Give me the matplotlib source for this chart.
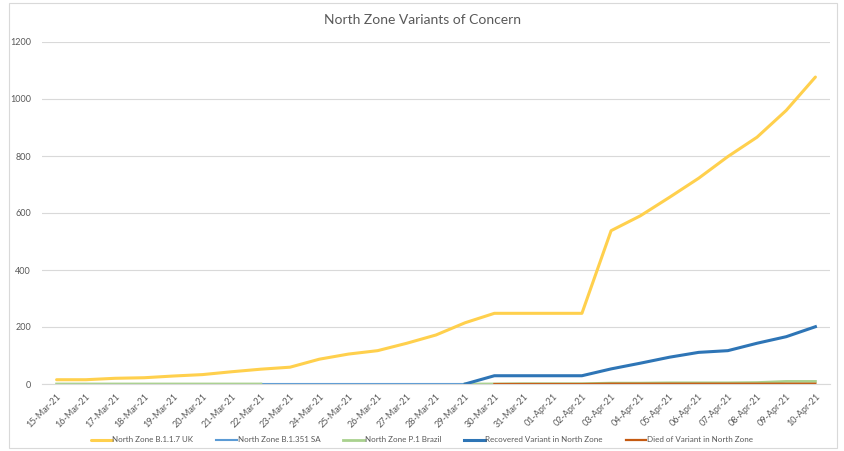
import matplotlib
matplotlib.use("Agg")
import matplotlib.pyplot as plt
import numpy as np
from matplotlib.patches import Rectangle

dates = ["15-Mar-21", "16-Mar-21", "17-Mar-21", "18-Mar-21", "19-Mar-21", "20-Mar-21",
         "21-Mar-21", "22-Mar-21", "23-Mar-21", "24-Mar-21", "25-Mar-21", "26-Mar-21",
         "27-Mar-21", "28-Mar-21", "29-Mar-21", "30-Mar-21", "31-Mar-21", "01-Apr-21",
         "02-Apr-21", "03-Apr-21", "04-Apr-21", "05-Apr-21", "06-Apr-21", "07-Apr-21",
         "08-Apr-21", "09-Apr-21", "10-Apr-21"]
nan = np.nan
uk = [15, 15, 20, 22, 28, 33, 43, 52, 59, 87, 105, 117, 143, 172, 215, 248, 248, 248,
      248, 538, 590, 655, 722, 798, 866, 960, 1077]
sa = [nan, nan, nan, nan, nan, nan, nan, 0, 0, 0, 0, 0, 0, 0, 0, nan, nan, nan,
      nan, nan, nan, nan, nan, nan, nan, nan, nan]
brazil = [0, 0, 0, 0, 0, 0, 0, 0, nan, nan, nan, nan, nan, nan, 0, 0, 1, 1,
          1, 3, 3, 4, 4, 4, 5, 9, 9]
recovered = [nan, nan, nan, nan, nan, nan, nan, nan, nan, nan, nan, nan, nan, nan, 0, 29, 29, 29,
             29, 53, 73, 94, 111, 117, 143, 166, 201]
died = [nan, nan, nan, nan, nan, nan, nan, nan, nan, nan, nan, nan, nan, nan, nan, 0, 0, 0,
        0, 1, 1, 1, 1, 1, 1, 1, 1]
series_names = ["North Zone B.1.1.7 UK", "North Zone B.1.351 SA", "North Zone P.1 Brazil",
                "Recovered Variant in North Zone", "Died of Variant in North Zone"]
yticks = [0, 200, 400, 600, 800, 1000, 1200]

plt.rcParams['font.family'] = ['Lato', 'DejaVu Sans']
txt = '#595959'

fig = plt.figure(figsize=(8.44, 4.51), dpi=100)
fig.patches.append(Rectangle((9/844, 3/451), 828/844, 445/451, transform=fig.transFigure,
                             fill=False, edgecolor='#D9D9D9', linewidth=0.8))
ax = fig.add_axes([42/844, 1-384/451, 788/844, 342/451])
x = np.arange(len(dates))

ax.plot(x, uk, color='#FFD04D', lw=2.2, label=series_names[0], solid_capstyle='round')
ax.plot(x, sa, color='#5B9BD5', lw=1.5, label=series_names[1])
ax.plot(x, brazil, color='#A9D18E', lw=2.0, label=series_names[2])
ax.plot(x, recovered, color='#2E75B6', lw=2.2, label=series_names[3])
ax.plot(x, died, color='#C55A11', lw=1.6, label=series_names[4])

ax.set_xlim(-0.5, len(dates) - 0.5)
ax.set_ylim(0, 1200)
ax.set_yticks(yticks)
ax.set_yticklabels([str(v) for v in yticks], fontsize=6.5, color=txt)
ax.set_xticks(x)
ax.set_xticklabels(dates, rotation=45, ha='right', rotation_mode='anchor', fontsize=6.5, color=txt)
ax.tick_params(axis='both', length=0, pad=6)
ax.tick_params(axis='y', pad=8)
ax.grid(axis='y', color='#D9D9D9', lw=0.8)
ax.set_axisbelow(True)
for s in ['top', 'right', 'left']:
    ax.spines[s].set_visible(False)
ax.spines['bottom'].set_color('#D9D9D9')
ax.spines['bottom'].set_linewidth(0.8)

fig.text(0.5, 1-20/451, "North Zone Variants of Concern", ha='center', va='center',
         fontsize=10, color=txt)
leg = fig.legend(*ax.get_legend_handles_labels(), loc='center', ncol=5,
                 bbox_to_anchor=(0.5, 1-440/451), frameon=False, fontsize=5.8,
                 handlelength=2.6, handletextpad=0.1, columnspacing=2.8, labelcolor=txt)

fig.savefig("out.png", dpi=100)
